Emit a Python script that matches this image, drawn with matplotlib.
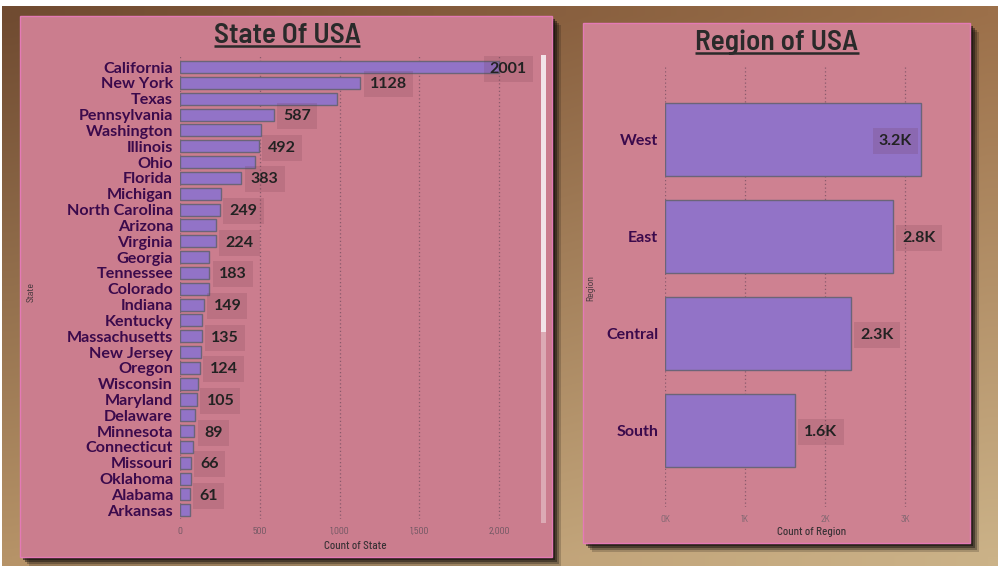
import numpy as np
import matplotlib.pyplot as plt
from matplotlib.patches import Rectangle
from matplotlib.ticker import FuncFormatter

states = ['California', 'New York', 'Texas', 'Pennsylvania', 'Washington',
          'Illinois', 'Ohio', 'Florida', 'Michigan', 'North Carolina',
          'Arizona', 'Virginia', 'Georgia', 'Tennessee', 'Colorado',
          'Indiana', 'Kentucky', 'Massachusetts', 'New Jersey', 'Oregon',
          'Wisconsin', 'Maryland', 'Delaware', 'Minnesota', 'Connecticut',
          'Missouri', 'Oklahoma', 'Alabama', 'Arkansas']
state_counts = [2001, 1128, 985, 587, 506, 492, 469, 383, 255, 249,
                224, 224, 184, 183, 182, 149, 139, 135, 130, 124,
                110, 105, 96, 89, 82, 66, 66, 61, 60]
# Power BI only shows every other label
state_labelled = ['California', 'New York', 'Pennsylvania', 'Illinois', 'Florida',
                  'North Carolina', 'Virginia', 'Tennessee', 'Indiana',
                  'Massachusetts', 'Oregon', 'Maryland', 'Minnesota',
                  'Missouri', 'Alabama']
state_ticks = [0, 500, 1000, 1500, 2000]

regions = ['West', 'East', 'Central', 'South']
region_counts = [3203, 2848, 2323, 1620]
region_ticks = [0, 1000, 2000, 3000]

W, H = 1002, 573
BAR = '#9273c7'
BAR_EDGE = '#6b6478'
LABEL_COL = '#3b0a4c'
VALUE_COL = '#222222'
GRID_COL = '#8a5a6c'
DIN = ['Barlow Semi Condensed', 'Roboto Condensed', 'DejaVu Sans']
UI = ['Lato', 'Open Sans', 'DejaVu Sans']

plt.rcParams['font.family'] = UI

fig = plt.figure(figsize=(W / 100, H / 100), dpi=100)
fig.patch.set_facecolor('white')


def rect(l, t, r, b):
    # pixel box -> figure fraction
    return [l / W, 1 - b / H, (r - l) / W, (b - t) / H]


# background layer in pixel coordinates
bg = fig.add_axes([0, 0, 1, 1], zorder=-5)
tl = np.array([0x70, 0x4b, 0x31]) / 255
tr = np.array([0x9c, 0x70, 0x4a]) / 255
bl = np.array([0xb6, 0x93, 0x68]) / 255
br = np.array([0xcb, 0xb2, 0x88]) / 255
u = np.linspace(0, 1, 50)[None, :, None]
v = np.linspace(0, 1, 30)[:, None, None]
grad = (1 - v) * ((1 - u) * tl + u * tr) + v * ((1 - u) * bl + u * br)
bg.imshow(grad, extent=(2, 998, 566, 6), aspect='auto', interpolation='bilinear')
bg.set_xlim(0, W)
bg.set_ylim(H, 0)
bg.axis('off')

panels = [(20, 16, 552, 557, '#cb7d8e'), (583, 23, 970, 543, '#ce8191')]
for l, t, r, b, fc in panels:
    for k, a in [(9, 0.2), (7, 0.3), (5, 0.45), (3, 0.6)]:
        bg.add_patch(Rectangle((l + k, t + k), r - l, b - t, fc='#15100d', ec='none', alpha=a))
    bg.add_patch(Rectangle((l, t), r - l, b - t, fc=fc, ec='#e47ab6', lw=1))

# scrollbar of the state visual
bg.add_patch(Rectangle((541, 55), 5, 468, fc='#dcaab4', ec='none'))
bg.add_patch(Rectangle((541, 55), 5, 277, fc='#f2e4e8', ec='none'))

titles = []
titles.append(bg.text(287, 43, 'State Of USA', ha='center', va='baseline', fontsize=21,
                      fontweight='semibold', family=DIN, color='#2a2a2a'))
titles.append(bg.text(777, 50, 'Region of USA', ha='center', va='baseline', fontsize=21,
                      fontweight='semibold', family=DIN, color='#2a2a2a'))


def style_axis(ax):
    ax.set_facecolor('none')
    for s in ax.spines.values():
        s.set_visible(False)
    ax.tick_params(length=0)
    ax.xaxis.grid(True, ls=(0, (1, 2)), color=GRID_COL, lw=0.9)
    ax.set_axisbelow(True)
    for lab in ax.get_xticklabels():
        lab.set_family(DIN)


# ---- State chart
ax1 = fig.add_axes(rect(180, 56, 540, 519), zorder=1)
y1 = np.arange(len(states))
ax1.barh(y1, state_counts, height=0.76, color=BAR, edgecolor=BAR_EDGE, lw=1)
ax1.set_xlim(0, 2255)
ax1.set_ylim(len(states) - 1 + 0.55, -0.7)
ax1.set_yticks(y1)
ax1.set_yticklabels(states, fontsize=11.6, fontweight='bold', color=LABEL_COL)
ax1.set_xticks(state_ticks)
ax1.xaxis.set_major_formatter(FuncFormatter(lambda x, p: f'{x:,.0f}'))
style_axis(ax1)
ax1.tick_params(axis='x', labelsize=7, labelcolor='#6a5560', pad=6)
ax1.tick_params(axis='y', pad=5)
ax1.set_xlabel('Count of State', fontsize=8, color='#3a3236', family=DIN, fontweight='medium')
ax1.xaxis.set_label_coords(0.486, -0.058)
ax1.xaxis.label.set_va('center')
ax1.set_ylabel('State', fontsize=7, color='#3a3236', family=DIN)
ax1.yaxis.set_label_coords(-0.40, 0.49)

for i, (s, val) in enumerate(zip(states, state_counts)):
    if s not in state_labelled:
        continue
    off = -7 if val > 0.85 * ax1.get_xlim()[1] else 7
    ax1.annotate(f'{val}', (val, i), xytext=(off, 0), textcoords='offset points',
                 ha='left', va='center_baseline', fontsize=11.5, fontweight='bold',
                 color=VALUE_COL,
                 bbox=dict(boxstyle='square,pad=0.38', fc='#6a3444', ec='none', alpha=0.16))

# ---- Region chart
ax2 = fig.add_axes(rect(665, 65, 945, 507), zorder=1)
y2 = np.arange(len(regions))
ax2.barh(y2, region_counts, height=0.757, color=BAR, edgecolor=BAR_EDGE, lw=1)
ax2.set_xlim(0, 3500)
ax2.set_ylim(len(regions) - 1 + 0.79, -0.77)
ax2.set_yticks(y2)
ax2.set_yticklabels(regions, fontsize=11.5, fontweight='bold', color=LABEL_COL)
ax2.set_xticks(region_ticks)
ax2.xaxis.set_major_formatter(FuncFormatter(lambda x, p: f'{x / 1000:.0f}K'))
style_axis(ax2)
ax2.tick_params(axis='x', labelsize=7, labelcolor='#7d6670', pad=6)
ax2.tick_params(axis='y', pad=5)
ax2.set_xlabel('Count of Region', fontsize=8, color='#3a3236', family=DIN, fontweight='medium')
ax2.xaxis.set_label_coords(0.525, -0.057)
ax2.xaxis.label.set_va('center')
ax2.set_ylabel('Region', fontsize=7, color='#3a3236', family=DIN)
ax2.yaxis.set_label_coords(-0.25, 0.495)

for i, val in enumerate(region_counts):
    inside = val > 0.88 * ax2.get_xlim()[1]
    ax2.annotate(f'{val / 1000:.1f}K', (val, i), xytext=(-6.5 if inside else 7, 0),
                 textcoords='offset points', ha='right' if inside else 'left',
                 va='center_baseline', fontsize=11.5, fontweight='bold', color=VALUE_COL,
                 bbox=dict(boxstyle='square,pad=0.38', fc='#6a3444', ec='none', alpha=0.16))

# underline the titles
fig.canvas.draw()
for t in titles:
    bb = t.get_window_extent()
    bg.plot([bb.x0, bb.x1], [t.get_position()[1] + 2.5] * 2, color='#2a2a2a', lw=1.8,
            solid_capstyle='butt')

fig.savefig('out.png', dpi=100)
